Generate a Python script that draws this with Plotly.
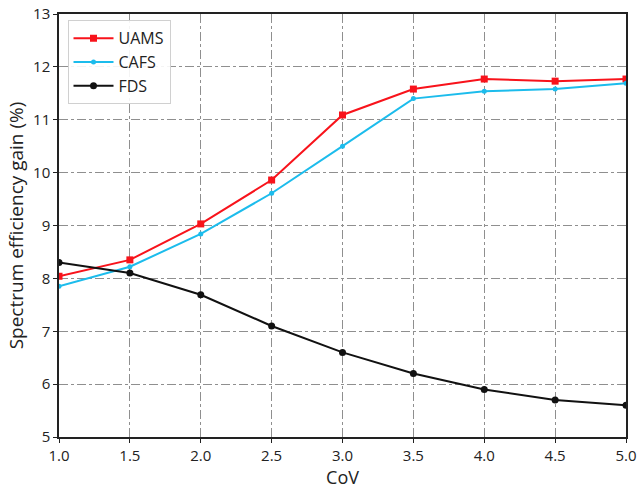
import plotly.graph_objects as go

cov = [1.0, 1.5, 2.0, 2.5, 3.0, 3.5, 4.0, 4.5, 5.0]
uams = [8.04, 8.35, 9.03, 9.86, 11.09, 11.58, 11.77, 11.73, 11.77]
cafs = [7.85, 8.22, 8.84, 9.61, 10.50, 11.40, 11.54, 11.58, 11.69]
fds = [8.30, 8.10, 7.69, 7.10, 6.60, 6.20, 5.90, 5.70, 5.60]
xticks = [1.0, 1.5, 2.0, 2.5, 3.0, 3.5, 4.0, 4.5, 5.0]
yticks = [5, 6, 7, 8, 9, 10, 11, 12, 13]

fig = go.Figure()
fig.add_trace(go.Scatter(x=cov, y=uams, name="UAMS", mode="lines+markers",
                         line=dict(color="#f8131b", width=2),
                         marker=dict(symbol="square", size=7, color="#f8131b")))
fig.add_trace(go.Scatter(x=cov, y=cafs, name="CAFS", mode="lines+markers",
                         line=dict(color="#1cbcec", width=2),
                         marker=dict(symbol="circle", size=5, color="#1cbcec")))
fig.add_trace(go.Scatter(x=cov, y=fds, name="FDS", mode="lines+markers",
                         line=dict(color="#111111", width=2),
                         marker=dict(symbol="circle", size=7, color="#111111")))

axis_common = dict(showline=True, linecolor="#222222", linewidth=1.5, mirror=True,
                   ticks="outside", ticklen=4, tickcolor="#222222",
                   showgrid=True, gridcolor="#8f8f8f", griddash="dashdot", gridwidth=1,
                   zeroline=False, tickfont=dict(size=15, color="#222222"),
                   automargin=False)

fig.update_xaxes(range=[1.0, 5.0], tickvals=xticks,
                 ticktext=[f"{v:.1f}" for v in xticks],
                 title=dict(text="CoV", font=dict(size=18, color="#222222"), standoff=4),
                 **axis_common)
fig.update_yaxes(range=[5, 13], tickvals=yticks,
                 title=dict(text="Spectrum efficiency gain (%)", font=dict(size=19, color="#222222"), standoff=4),
                 **axis_common)

fig.update_layout(
    width=637, height=489,
    margin=dict(l=59, r=11, t=14, b=52),
    paper_bgcolor="white", plot_bgcolor="white",
    font=dict(family="Open Sans", color="#222222"),
    legend=dict(x=0.015, y=0.985, xanchor="left", yanchor="top",
                bgcolor="rgba(255,255,255,0.9)", bordercolor="#d0d0d0", borderwidth=1,
                font=dict(size=16), tracegroupgap=0, itemwidth=40),
    showlegend=True,
)

fig.write_html("out.html")
